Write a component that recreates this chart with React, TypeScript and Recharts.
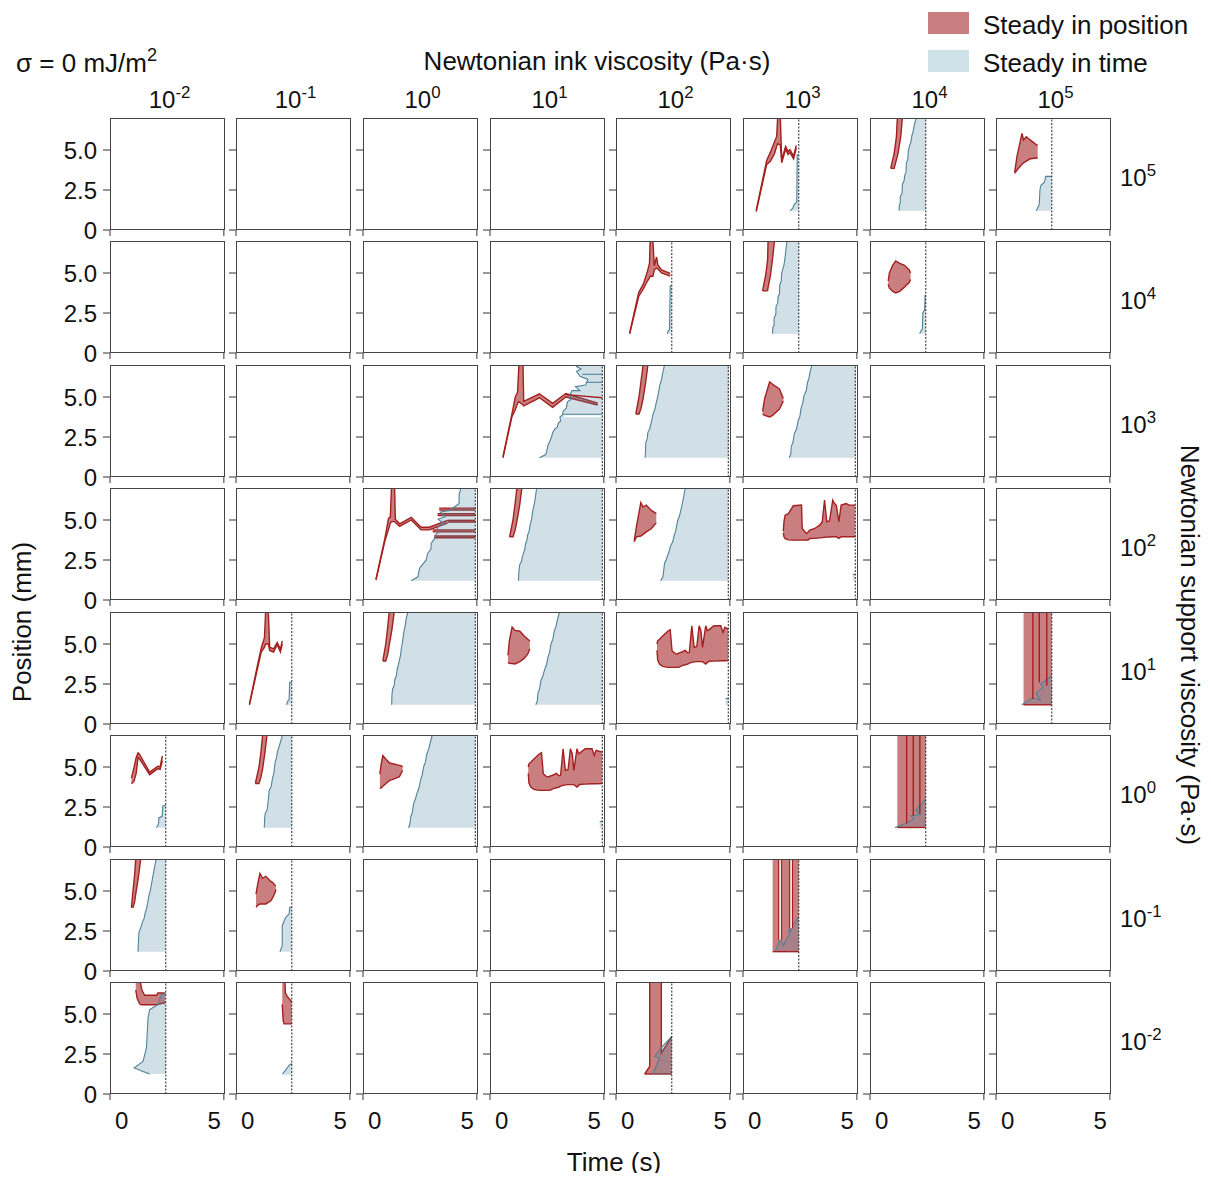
import React from 'react';
import { ComposedChart, Area, Line, XAxis, YAxis, ReferenceLine } from 'recharts';

type Tri = [number, number, number];
type Pair = [number, number];

const inkExponents = ['-2', '-1', '0', '1', '2', '3', '4', '5'];
const supportExponents = ['5', '4', '3', '2', '1', '0', '-1', '-2'];
const xTicks = [0, 5];
const yTicks = [0, 2.5, 5];
const yTickText: Record<number, string> = { 0: '0', 2.5: '2.5', 5: '5.0' };
const SHORT = 2.45;
const LONG = 4.93;

// ---------- row 0 (support 1e5) ----------
const r0c5Red: Tri[] = [[0.58, 1.15, 1.22], [1.04, 4.1, 4.35], [1.2, 4.3, 4.85], [1.38, 4.75, 5.5], [1.48, 5.25, 5.85], [1.52, 5.4, 7], [1.64, 5.3, 7], [1.7, 4.2, 4.38], [1.87, 5.05, 5.22], [1.98, 4.72, 4.9], [2.06, 4.85, 5.02], [2.22, 4.45, 4.62], [2.34, 5.1, 5.28]];
const r0c5Blue: Pair[] = [[2.07, 1.2], [2.18, 1.35], [2.25, 1.6], [2.36, 1.75], [2.38, 4.7], [2.45, 4.7]];
const r0c6Red: Tri[] = [[0.91, 3.85, 3.85], [1.06, 3.85, 4.79], [1.16, 4.4, 5.83], [1.2, 4.6, 7], [1.23, 4.79, 7], [1.35, 5.83, 7], [1.42, 7, 7]];
const r0c6Blue: Pair[] = [[1.28, 1.2], [1.29, 1.6], [1.33, 1.65], [1.33, 2.1], [1.41, 2.3], [1.42, 2.85], [1.5, 3.1], [1.52, 3.4], [1.58, 3.6], [1.6, 4.2], [1.66, 4.4], [1.68, 4.9], [1.74, 5.3], [1.78, 5.4], [1.84, 5.9], [1.9, 6.2], [1.95, 6.6], [2.03, 7], [2.45, 7]];
const r0c7Red: Tri[] = [[0.82, 3.54, 3.6], [0.92, 3.75, 4.58], [1.14, 4.1, 6.04], [1.21, 4.2, 5.63], [1.33, 4.3, 5.83], [1.5, 4.45, 5.63], [1.79, 4.5, 5.31], [1.83, 4.5, 5.3]];
const r0c7Blue: Pair[] = [[1.77, 1.2], [1.85, 1.45], [1.9, 1.6], [1.93, 2.5], [1.97, 2.8], [2.1, 2.95], [2.15, 3.1], [2.18, 3.35], [2.45, 3.35]];

// ---------- row 1 (support 1e4) ----------
const r1c4Red: Tri[] = [[0.6, 1.2, 1.25], [1.0, 3.55, 3.8], [1.2, 4.0, 4.3], [1.38, 4.5, 5.1], [1.47, 4.7, 5.6], [1.5, 4.8, 7], [1.62, 4.8, 7], [1.68, 5.2, 5.45], [1.78, 5.3, 6.0], [1.84, 5.25, 5.5], [2.0, 5.0, 5.2], [2.38, 4.8, 4.98]];
const r1c4Blue: Pair[] = [[2.25, 1.2], [2.3, 1.4], [2.35, 1.45], [2.38, 4.2], [2.45, 4.2]];
const r1c5Red: Tri[] = [[0.86, 3.88, 3.88], [1.0, 3.88, 4.9], [1.08, 3.9, 5.8], [1.1, 4.1, 7], [1.2, 4.8, 7], [1.3, 5.9, 7], [1.38, 7, 7]];
const r1c5Blue: Pair[] = [[1.3, 1.2], [1.31, 1.6], [1.36, 1.7], [1.37, 2.2], [1.44, 2.4], [1.45, 2.9], [1.52, 3.1], [1.54, 3.5], [1.6, 3.7], [1.62, 4.3], [1.68, 4.5], [1.7, 5.0], [1.76, 5.3], [1.8, 5.5], [1.85, 6.0], [1.88, 6.4], [1.93, 7], [2.45, 7]];
const r1c6Red: Tri[] = [[0.8, 4.3, 4.5], [0.85, 4.05, 5.0], [1.0, 3.85, 5.5], [1.13, 3.75, 5.75], [1.3, 3.85, 5.6], [1.5, 4.1, 5.5], [1.72, 4.4, 5.2], [1.78, 4.6, 5.0]];
const r1c6Blue: Pair[] = [[2.18, 1.2], [2.25, 1.4], [2.3, 1.5], [2.32, 2.5], [2.4, 2.7], [2.42, 3.6], [2.45, 3.6]];

// ---------- row 2 (support 1e3) ----------
const r2c3Red: Tri[] = [[0.57, 1.2, 1.27], [0.96, 3.75, 3.92], [1.11, 4.2, 5.0], [1.21, 4.6, 5.3], [1.27, 4.7, 7], [1.45, 4.5, 7], [1.48, 4.45, 4.72], [2.17, 4.95, 5.2], [2.75, 4.35, 4.6], [3.33, 5.0, 5.22], [4.73, 4.5, 4.62]];
const r2c3RedLine: Pair[] = [[3.33, 5.15], [4.93, 4.95]];
const r2c3Blue: Pair[] = [[2.17, 1.2], [2.45, 1.4], [2.5, 1.7], [2.56, 2.05], [2.62, 2.2], [2.7, 2.5], [2.76, 2.8], [2.85, 3.0], [2.95, 3.1], [3.0, 3.35], [3.1, 3.5], [3.07, 3.75], [3.2, 3.9], [3.2, 4.1], [3.35, 4.3], [3.4, 4.7], [3.55, 4.85], [3.5, 5.1], [3.6, 5.4], [3.95, 5.4], [3.75, 5.65], [4.2, 5.75], [4.3, 6.1], [3.95, 6.3], [3.8, 6.6], [4.0, 6.75], [3.8, 6.9], [3.85, 7], [4.93, 7]];
const r2c3BlueH1: Pair[] = [[3.2, 3.92], [4.93, 3.92]];
const r2c3BlueH2: Pair[] = [[4.2, 5.92], [4.93, 5.92]];
const r2c3BlueH3: Pair[] = [[4.05, 6.42], [4.93, 6.42]];
const r2c3White: Pair[] = [[3.25, 3.8], [4.9, 3.8]];
const r2c4Red: Tri[] = [[0.87, 3.94, 3.94], [1.01, 3.94, 5.0], [1.1, 4.3, 6.0], [1.19, 4.9, 7], [1.3, 5.9, 7], [1.4, 7, 7]];
const r2c4Blue: Pair[] = [[1.28, 1.2], [1.3, 1.8], [1.31, 2.17], [1.37, 2.4], [1.4, 2.79], [1.48, 3.0], [1.55, 3.42], [1.58, 3.6], [1.63, 3.94], [1.7, 4.2], [1.77, 4.67], [1.83, 5.0], [1.88, 5.4], [1.92, 5.71], [2.0, 6.1], [2.05, 6.5], [2.13, 7], [4.95, 7]];
const r2c5Red: Tri[] = [[0.86, 3.94, 4.1], [0.95, 3.85, 4.9], [1.17, 3.75, 5.94], [1.3, 3.85, 5.8], [1.6, 4.25, 5.5], [1.77, 4.75, 4.9]];
const r2c5Blue: Pair[] = [[2.03, 1.2], [2.1, 1.45], [2.12, 1.9], [2.2, 2.2], [2.25, 2.7], [2.35, 3.0], [2.42, 3.5], [2.5, 3.8], [2.55, 4.3], [2.62, 4.6], [2.68, 5.1], [2.78, 5.4], [2.83, 5.9], [2.9, 6.2], [2.95, 6.6], [3.03, 7], [4.95, 7]];

// ---------- row 3 (support 1e2) ----------
const r3c2Red: Tri[] = [[0.57, 1.24, 1.3], [0.96, 3.68, 3.85], [1.12, 4.4, 5.1], [1.2, 4.8, 5.2], [1.25, 4.9, 7], [1.39, 4.9, 7], [1.42, 4.85, 5.05], [1.61, 4.6, 4.76], [2.12, 5.0, 5.17], [2.55, 4.38, 4.55], [2.91, 4.38, 4.55], [3.71, 4.8, 4.98]];
const r3c2Stripe1: Tri[] = [[3.35, 5.62, 5.74], [4.93, 5.62, 5.74]];
const r3c2Stripe2: Tri[] = [[3.28, 5.28, 5.4], [4.93, 5.28, 5.4]];
const r3c2Stripe3: Tri[] = [[3.71, 4.87, 4.98], [4.93, 4.87, 4.98]];
const r3c2Stripe4: Tri[] = [[3.06, 4.26, 4.38], [4.93, 4.26, 4.38]];
const r3c2Stripe5: Tri[] = [[3.13, 3.89, 4.0], [4.93, 3.89, 4.0]];
const r3c2Blue: Pair[] = [[2.12, 1.2], [2.41, 1.45], [2.48, 1.97], [2.6, 2.2], [2.77, 2.49], [2.84, 2.91], [2.99, 3.2], [2.99, 3.53], [3.13, 3.8], [3.2, 4.1], [3.3, 4.2], [3.25, 4.45], [3.35, 4.68], [3.55, 4.75], [3.3, 5.05], [3.6, 5.2], [3.4, 5.5], [3.8, 5.6], [4.0, 5.8], [4.22, 6.03], [4.22, 6.6], [4.3, 7], [4.93, 7]];
const r3c3Red: Tri[] = [[0.86, 3.95, 3.95], [1.01, 3.95, 5.0], [1.1, 4.35, 6.0], [1.18, 4.9, 7], [1.3, 5.9, 7], [1.4, 7, 7]];
const r3c3Blue: Pair[] = [[1.25, 1.2], [1.27, 1.8], [1.3, 2.18], [1.38, 2.4], [1.42, 2.7], [1.47, 2.91], [1.53, 3.2], [1.56, 3.5], [1.62, 3.74], [1.66, 4.1], [1.72, 4.3], [1.76, 4.68], [1.82, 5.0], [1.86, 5.4], [1.9, 5.72], [1.96, 6.1], [2.0, 6.5], [2.05, 7], [4.93, 7]];
const r3c4Red: Tri[] = [[0.8, 3.64, 3.7], [0.9, 3.95, 4.6], [1.09, 4.0, 6.09], [1.19, 4.1, 5.81], [1.33, 4.26, 5.93], [1.55, 4.45, 5.6], [1.72, 4.75, 5.45], [1.77, 4.8, 5.4]];
const r3c4Blue: Pair[] = [[1.96, 1.2], [2.06, 1.45], [2.1, 1.9], [2.13, 2.28], [2.2, 2.5], [2.27, 2.8], [2.33, 3.0], [2.38, 3.32], [2.49, 3.64], [2.55, 4.0], [2.61, 4.26], [2.66, 4.6], [2.71, 4.99], [2.78, 5.2], [2.83, 5.51], [2.88, 5.8], [2.93, 6.14], [2.98, 6.5], [3.04, 7], [4.93, 7]];
const r3c5Red: Tri[] = [[1.77, 4.2, 4.3], [1.8, 3.95, 4.9], [1.85, 3.84, 5.3], [1.99, 3.76, 5.4], [2.21, 3.74, 5.89], [2.57, 3.74, 5.93], [2.6, 3.74, 4.47], [2.79, 3.75, 4.16], [2.86, 3.75, 4.25], [2.93, 3.84, 4.37], [3.15, 3.85, 4.47], [3.37, 3.88, 4.68], [3.48, 3.9, 4.89], [3.58, 3.92, 6.24], [3.68, 3.93, 4.89], [3.8, 3.94, 4.95], [3.94, 3.95, 6.24], [4.02, 3.95, 6.03], [4.1, 3.95, 5.9], [4.21, 3.85, 4.89], [4.31, 3.95, 5.93], [4.53, 3.95, 6.03], [4.67, 3.95, 5.93], [4.93, 3.95, 5.93]];
const r3c5Blue: Pair[] = [[4.82, 1.6], [4.93, 1.6]];

// ---------- row 4 (support 1e1) ----------
const r4c1Red: Tri[] = [[0.59, 1.19, 1.25], [0.94, 3.45, 3.65], [1.11, 4.5, 4.75], [1.25, 4.8, 5.4], [1.3, 5.0, 7], [1.42, 5.0, 7], [1.48, 4.6, 4.8], [1.65, 4.5, 4.7], [1.81, 4.95, 5.1], [1.95, 4.5, 4.68], [2.03, 5.0, 5.2]];
const r4c1Blue: Pair[] = [[2.22, 1.2], [2.28, 1.45], [2.33, 1.5], [2.36, 2.6], [2.45, 2.6]];
const r4c2Red: Tri[] = [[0.87, 3.94, 3.94], [1.0, 3.94, 5.0], [1.08, 4.3, 6.0], [1.15, 4.9, 7], [1.27, 5.9, 7], [1.37, 7, 7]];
const r4c2Blue: Pair[] = [[1.26, 1.2], [1.27, 1.8], [1.3, 2.2], [1.37, 2.4], [1.4, 2.8], [1.46, 3.0], [1.5, 3.4], [1.55, 3.7], [1.6, 4.0], [1.65, 4.3], [1.68, 4.7], [1.72, 5.0], [1.76, 5.4], [1.8, 5.8], [1.86, 6.2], [1.9, 6.6], [1.97, 7], [4.93, 7]];
const r4c3Red: Tri[] = [[0.79, 3.85, 4.3], [0.85, 3.8, 5.2], [0.97, 3.78, 6.06], [1.1, 3.75, 5.85], [1.31, 3.9, 5.8], [1.5, 4.1, 5.5], [1.66, 4.38, 5.3], [1.75, 4.7, 5.19]];
const r4c3Blue: Pair[] = [[2.01, 1.2], [2.08, 1.45], [2.1, 1.9], [2.18, 2.2], [2.23, 2.7], [2.32, 3.0], [2.4, 3.4], [2.48, 3.7], [2.55, 4.2], [2.62, 4.5], [2.68, 5.0], [2.76, 5.3], [2.82, 5.8], [2.9, 6.1], [2.96, 6.5], [3.05, 7], [4.93, 7]];
const r4c4Red: Tri[] = [[1.8, 4.6, 5.0], [1.83, 4.0, 5.2], [1.91, 3.75, 5.3], [2.05, 3.6, 5.5], [2.27, 3.54, 5.8], [2.38, 3.54, 5.9], [2.46, 3.54, 4.58], [2.6, 3.54, 4.4], [2.67, 3.54, 4.38], [2.78, 3.56, 4.45], [2.9, 3.65, 4.5], [3.04, 3.7, 4.6], [3.15, 3.75, 4.45], [3.22, 3.8, 4.48], [3.33, 3.85, 6.14], [3.43, 3.88, 4.79], [3.55, 3.9, 4.85], [3.65, 3.9, 6.14], [3.73, 3.9, 5.83], [3.8, 3.9, 4.79], [3.94, 3.75, 6.14], [4.01, 3.85, 5.83], [4.09, 3.92, 5.9], [4.3, 3.93, 6.14], [4.6, 3.95, 6.14], [4.7, 3.95, 5.72], [4.78, 3.95, 6.04], [4.93, 3.96, 5.93]];
const r4c4Blue: Pair[] = [[4.81, 1.6], [4.93, 1.6]];
const r4c7RedCol: Tri[] = [[1.21, 1.2, 7], [2.45, 1.2, 7]];
const r4c7RedBase: Pair[] = [[1.21, 1.2], [2.45, 1.2]];
const r4c7RedV1: Pair[] = [[1.62, 7], [1.62, 1.56]];
const r4c7RedV2: Pair[] = [[1.9, 7], [1.9, 2.6]];
const r4c7RedV3: Pair[] = [[2.23, 7], [2.23, 2.4]];
const r4c7Blue: Pair[] = [[1.14, 1.2], [1.6, 1.65], [1.93, 1.5], [1.75, 1.95], [2.08, 2.3], [1.95, 2.5], [2.45, 3.02]];

// ---------- row 5 (support 1e0) ----------
const r5c0Red: Tri[] = [[0.94, 3.95, 4.3], [1.05, 4.1, 4.95], [1.15, 4.6, 5.6], [1.23, 5.6, 5.89], [1.3, 5.5, 5.78], [1.74, 4.52, 4.68], [2.1, 4.9, 5.05], [2.2, 4.85, 5.0], [2.3, 5.4, 5.7]];
const r5c0Blue: Pair[] = [[2.03, 1.2], [2.08, 1.3], [2.14, 1.5], [2.14, 1.82], [2.29, 1.92], [2.32, 2.57], [2.45, 2.6]];
const r5c1Red: Tri[] = [[0.85, 3.97, 3.97], [1.01, 3.97, 5.0], [1.1, 4.4, 6.0], [1.17, 4.9, 7], [1.27, 5.9, 7], [1.36, 7, 7]];
const r5c1Blue: Pair[] = [[1.24, 1.2], [1.26, 1.8], [1.28, 2.09], [1.36, 2.3], [1.38, 2.47], [1.42, 3.0], [1.46, 3.55], [1.55, 3.8], [1.6, 4.28], [1.66, 4.6], [1.72, 5.32], [1.78, 5.6], [1.82, 5.94], [1.92, 6.4], [2.04, 7], [2.45, 7]];
const r5c2Red: Tri[] = [[0.74, 3.66, 4.55], [0.8, 3.7, 5.2], [0.87, 3.8, 5.72], [1.0, 3.95, 5.5], [1.17, 4.16, 5.25], [1.26, 4.2, 5.22], [1.6, 4.4, 5.1], [1.74, 4.8, 5.03]];
const r5c2Blue: Pair[] = [[2.0, 1.2], [2.06, 1.45], [2.1, 1.9], [2.17, 2.2], [2.22, 2.7], [2.3, 3.0], [2.38, 3.4], [2.46, 3.7], [2.53, 4.2], [2.6, 4.5], [2.66, 5.0], [2.74, 5.3], [2.8, 5.8], [2.88, 6.1], [2.95, 6.5], [3.04, 7], [4.93, 7]];
const r5c3Red: Tri[] = [[1.68, 4.6, 5.0], [1.71, 4.0, 5.2], [1.79, 3.75, 5.3], [1.93, 3.6, 5.5], [2.15, 3.54, 5.8], [2.26, 3.54, 5.9], [2.34, 3.54, 4.58], [2.48, 3.54, 4.4], [2.55, 3.54, 4.38], [2.66, 3.56, 4.45], [2.78, 3.65, 4.5], [2.92, 3.7, 4.6], [3.03, 3.75, 4.45], [3.1, 3.8, 4.48], [3.21, 3.85, 6.14], [3.31, 3.88, 4.79], [3.43, 3.9, 4.85], [3.53, 3.9, 6.14], [3.61, 3.9, 5.83], [3.68, 3.9, 4.79], [3.82, 3.75, 6.14], [3.89, 3.85, 5.83], [3.97, 3.92, 5.9], [4.18, 3.93, 6.14], [4.48, 3.95, 6.14], [4.58, 3.95, 5.72], [4.66, 3.95, 6.04], [4.93, 3.96, 5.93]];
const r5c3Blue: Pair[] = [[4.82, 1.6], [4.93, 1.6]];
const r5c6RedCol: Tri[] = [[1.2, 1.22, 7], [2.45, 1.22, 7]];
const r5c6RedBase: Pair[] = [[1.2, 1.22], [2.45, 1.22]];
const r5c6RedV1: Pair[] = [[1.61, 7], [1.61, 1.47]];
const r5c6RedV2: Pair[] = [[1.9, 7], [1.9, 1.95]];
const r5c6RedV3: Pair[] = [[2.19, 7], [2.19, 2.09]];
const r5c6Blue: Pair[] = [[1.1, 1.22], [1.64, 1.51], [1.93, 1.77], [1.78, 1.95], [2.22, 2.03], [2.0, 2.3], [2.45, 2.99]];

// ---------- row 6 (support 1e-1) ----------
const r6c0Red: Tri[] = [[0.94, 3.98, 3.98], [1.01, 3.98, 5.0], [1.08, 4.3, 6.0], [1.13, 4.8, 7], [1.25, 5.9, 7], [1.35, 7, 7]];
const r6c0Blue: Pair[] = [[1.23, 1.2], [1.25, 1.9], [1.27, 2.42], [1.35, 2.7], [1.42, 3.04], [1.5, 3.3], [1.54, 3.6], [1.6, 3.88], [1.66, 4.3], [1.71, 4.71], [1.78, 5.1], [1.82, 5.4], [1.86, 5.75], [1.92, 6.2], [1.97, 6.6], [2.03, 7], [2.45, 7]];
const r6c1Red: Tri[] = [[0.88, 3.98, 4.81], [0.95, 4.1, 5.4], [1.05, 4.19, 6.1], [1.17, 4.19, 5.79], [1.31, 4.19, 5.92], [1.53, 4.39, 5.6], [1.6, 4.55, 5.54], [1.72, 4.92, 5.35], [1.75, 5.1, 5.33]];
const r6c1Blue: Pair[] = [[1.93, 1.2], [2.03, 1.58], [2.03, 2.83], [2.18, 3.35], [2.33, 3.56], [2.36, 3.98], [2.45, 3.98]];
const r6c5RedCol: Tri[] = [[1.3, 1.21, 7], [2.45, 1.21, 7]];
const r6c5RedBase: Pair[] = [[1.3, 1.21], [2.45, 1.21]];
const r6c5Slit1: Pair[] = [[1.63, 7], [1.63, 1.96]];
const r6c5Slit2: Pair[] = [[2.11, 7], [2.11, 2.67]];
const r6c5Blue: Pair[] = [[1.41, 1.21], [1.63, 1.96], [1.77, 1.58], [2.14, 2.63], [1.98, 2.45], [2.43, 3.35]];

// ---------- row 7 (support 1e-2) ----------
const r7c0Red: Tri[] = [[1.13, 6.5, 7], [1.19, 6.0, 7], [1.28, 5.7, 7], [1.33, 5.6, 7], [1.4, 5.58, 6.5], [1.52, 5.58, 6.17], [2.05, 5.58, 6.17], [2.1, 5.6, 6.31], [2.42, 5.7, 6.31]];
const r7c0BlueBand: Tri[] = [[1.06, 1.63, 1.63], [1.45, 1.35, 2.04], [1.6, 1.28, 2.88], [1.67, 1.26, 4.75], [1.74, 1.25, 5.27], [2.1, 1.25, 5.58], [2.25, 1.25, 6.2], [2.45, 1.25, 6.31]];
const r7c0BlueEdge: Pair[] = [[1.74, 1.25], [1.06, 1.63], [1.45, 2.04], [1.6, 2.88], [1.67, 4.75], [1.74, 5.27], [2.1, 5.58], [2.25, 6.2], [2.45, 6.31]];
const r7c1Red: Tri[] = [[2.03, 5.6, 7], [2.07, 4.6, 7], [2.11, 4.38, 7], [2.15, 4.38, 7], [2.17, 4.38, 6.3], [2.25, 4.38, 6.1], [2.45, 4.38, 5.75]];
const r7c1Blue: Pair[] = [[2.04, 1.25], [2.15, 1.45], [2.25, 1.63], [2.36, 1.83], [2.45, 1.9]];
const r7c4Red: Tri[] = [[1.26, 1.25, 1.25], [1.48, 1.25, 1.73], [1.48, 1.25, 7], [1.99, 1.25, 7], [1.99, 1.25, 2.56], [2.45, 1.25, 3.6]];
const r7c4Blue: Pair[] = [[1.62, 1.25], [1.91, 2.25], [1.7, 2.35], [1.91, 2.77], [2.45, 3.6]];

// ---------- layout / style ----------
const colLeft = [110, 236, 363, 490, 616, 743, 870, 996];
const rowTop = [118, 241, 365, 488, 612, 735, 859, 982];
const PW = 115;
const PH = 112;
const PL = 70;
const PT = 4;
const PR = 4;
const PB = 50;
const FONT = '"Liberation Sans", Arial, Helvetica, sans-serif';
const RED_FILL = '#c97f80';
const RED_STROKE = '#a3201f';
const BLUE_FILL = '#4682a0';
const BLUE_OP = 0.25;
const BLUE_STROKE = '#4f8298';
const SWATCH_BLUE = '#cfe2e9';

interface Panel {
  r: number;
  c: number;
  t: number;
  red?: Tri[][];
  redCol?: Tri[][];
  redLines?: Pair[][];
  slits?: Pair[][];
  blue?: Pair[][];
  blueBand?: Tri[][];
  blueLines?: Pair[][];
  whiteLines?: Pair[][];
}

const panels: Panel[] = [
  { r: 0, c: 5, t: SHORT, red: [r0c5Red], blue: [r0c5Blue] },
  { r: 0, c: 6, t: SHORT, red: [r0c6Red], blue: [r0c6Blue] },
  { r: 0, c: 7, t: SHORT, red: [r0c7Red], blue: [r0c7Blue] },
  { r: 1, c: 4, t: SHORT, red: [r1c4Red], blue: [r1c4Blue] },
  { r: 1, c: 5, t: SHORT, red: [r1c5Red], blue: [r1c5Blue] },
  { r: 1, c: 6, t: SHORT, red: [r1c6Red], blue: [r1c6Blue] },
  { r: 2, c: 3, t: LONG, red: [r2c3Red], redLines: [r2c3RedLine], blue: [r2c3Blue], whiteLines: [r2c3White], blueLines: [r2c3BlueH1, r2c3BlueH2, r2c3BlueH3] },
  { r: 2, c: 4, t: LONG, red: [r2c4Red], blue: [r2c4Blue] },
  { r: 2, c: 5, t: LONG, red: [r2c5Red], blue: [r2c5Blue] },
  { r: 3, c: 2, t: LONG, red: [r3c2Red, r3c2Stripe1, r3c2Stripe2, r3c2Stripe3, r3c2Stripe4, r3c2Stripe5], blue: [r3c2Blue] },
  { r: 3, c: 3, t: LONG, red: [r3c3Red], blue: [r3c3Blue] },
  { r: 3, c: 4, t: LONG, red: [r3c4Red], blue: [r3c4Blue] },
  { r: 3, c: 5, t: LONG, red: [r3c5Red], blue: [r3c5Blue] },
  { r: 4, c: 1, t: SHORT, red: [r4c1Red], blue: [r4c1Blue] },
  { r: 4, c: 2, t: LONG, red: [r4c2Red], blue: [r4c2Blue] },
  { r: 4, c: 3, t: LONG, red: [r4c3Red], blue: [r4c3Blue] },
  { r: 4, c: 4, t: LONG, red: [r4c4Red], blue: [r4c4Blue] },
  { r: 4, c: 7, t: SHORT, redCol: [r4c7RedCol], redLines: [r4c7RedBase, r4c7RedV1, r4c7RedV2, r4c7RedV3], blue: [r4c7Blue] },
  { r: 5, c: 0, t: SHORT, red: [r5c0Red], blue: [r5c0Blue] },
  { r: 5, c: 1, t: SHORT, red: [r5c1Red], blue: [r5c1Blue] },
  { r: 5, c: 2, t: LONG, red: [r5c2Red], blue: [r5c2Blue] },
  { r: 5, c: 3, t: LONG, red: [r5c3Red], blue: [r5c3Blue] },
  { r: 5, c: 6, t: SHORT, redCol: [r5c6RedCol], redLines: [r5c6RedBase, r5c6RedV1, r5c6RedV2, r5c6RedV3], blue: [r5c6Blue] },
  { r: 6, c: 0, t: SHORT, red: [r6c0Red], blue: [r6c0Blue] },
  { r: 6, c: 1, t: SHORT, red: [r6c1Red], blue: [r6c1Blue] },
  { r: 6, c: 5, t: SHORT, redCol: [r6c5RedCol], redLines: [r6c5RedBase], slits: [r6c5Slit1, r6c5Slit2], blue: [r6c5Blue] },
  { r: 7, c: 0, t: SHORT, red: [r7c0Red], blueBand: [r7c0BlueBand], blueLines: [r7c0BlueEdge] },
  { r: 7, c: 1, t: SHORT, red: [r7c1Red], blue: [r7c1Blue] },
  { r: 7, c: 4, t: SHORT, red: [r7c4Red], blue: [r7c4Blue] },
];

const band = (a: Tri[]) => a.map(([x, lo, hi]) => ({ x, v: [lo, hi] }));
const pts = (a: Pair[]) => a.map(([x, y]) => ({ x, y }));

function Sup({ base, exp }: { base: string; exp: string }) {
  return (
    <span>
      {base}
      <span style={{ fontSize: '0.7em', position: 'relative', top: '-0.62em' }}>{exp}</span>
    </span>
  );
}

function PanelChart({ r, c, spec }: { r: number; c: number; spec?: Panel }) {
  const showX = r === 7;
  const showY = c === 0;
  const xTick = (props: any) => {
    if (!showX) return <g />;
    const { x, y, payload } = props;
    const first = payload.value === 0;
    return (
      <text x={first ? x + 5 : x - 3} y={y} dy="0.71em" textAnchor={first ? 'start' : 'end'} fontSize={24} fontFamily={FONT} fill="#111">
        {String(payload.value)}
      </text>
    );
  };
  const yTick = (props: any) => {
    if (!showY) return <g />;
    const { x, y, payload } = props;
    return (
      <text x={x} y={y} dy="0.355em" textAnchor="end" fontSize={24} fontFamily={FONT} fill="#111">
        {yTickText[payload.value]}
      </text>
    );
  };
  const items: React.ReactNode[] = [];
  let k = 0;
  if (spec) {
    (spec.redCol || []).forEach((d) =>
      items.push(<Area key={k++} data={band(d)} dataKey="v" type="linear" fill={RED_FILL} fillOpacity={1} stroke="none" isAnimationActive={false} dot={false} activeDot={false} />)
    );
    (spec.red || []).forEach((d) =>
      items.push(<Area key={k++} data={band(d)} dataKey="v" type="linear" fill={RED_FILL} fillOpacity={1} stroke={RED_STROKE} strokeWidth={1.4} isAnimationActive={false} dot={false} activeDot={false} />)
    );
    (spec.redLines || []).forEach((d) =>
      items.push(<Line key={k++} data={pts(d)} dataKey="y" type="linear" stroke={RED_STROKE} strokeWidth={1.4} dot={false} activeDot={false} isAnimationActive={false} />)
    );
    (spec.slits || []).forEach((d) => {
      items.push(<Line key={k++} data={pts(d)} dataKey="y" type="linear" stroke={RED_STROKE} strokeWidth={4} dot={false} activeDot={false} isAnimationActive={false} />);
      items.push(<Line key={k++} data={pts(d)} dataKey="y" type="linear" stroke="#ffffff" strokeWidth={1.6} dot={false} activeDot={false} isAnimationActive={false} />);
    });
    (spec.blue || []).forEach((d) =>
      items.push(<Area key={k++} data={pts(d)} dataKey="y" baseValue={1.2} type="linear" fill={BLUE_FILL} fillOpacity={BLUE_OP} stroke={BLUE_STROKE} strokeWidth={1.1} isAnimationActive={false} dot={false} activeDot={false} />)
    );
    (spec.blueBand || []).forEach((d) =>
      items.push(<Area key={k++} data={band(d)} dataKey="v" type="linear" fill={BLUE_FILL} fillOpacity={BLUE_OP} stroke="none" isAnimationActive={false} dot={false} activeDot={false} />)
    );
    (spec.whiteLines || []).forEach((d) =>
      items.push(<Line key={k++} data={pts(d)} dataKey="y" type="linear" stroke="#ffffff" strokeWidth={2} dot={false} activeDot={false} isAnimationActive={false} />)
    );
    (spec.blueLines || []).forEach((d) =>
      items.push(<Line key={k++} data={pts(d)} dataKey="y" type="linear" stroke={BLUE_STROKE} strokeWidth={1.1} dot={false} activeDot={false} isAnimationActive={false} />)
    );
    items.push(<ReferenceLine key={k++} x={spec.t} stroke="#222" strokeWidth={1} strokeDasharray="2 1.5" ifOverflow="extendDomain" />);
  }
  return (
    <>
      <div style={{ position: 'absolute', left: colLeft[c] - 8 - PL, top: rowTop[r] - 8 - PT }}>
        <ComposedChart width={PL + PW + PR} height={PT + PH + PB} margin={{ top: PT, right: PR, left: 0, bottom: 0 }}>
          <XAxis type="number" dataKey="x" domain={[0, 5.05]} ticks={xTicks} allowDataOverflow axisLine={false} tickLine={{ stroke: '#333' }} tickSize={6} tickMargin={12} tick={xTick} height={PB} interval={0} />
          <YAxis type="number" domain={[0, 7]} ticks={yTicks} allowDataOverflow axisLine={false} tickLine={{ stroke: '#333' }} tickSize={7} tickMargin={6} tick={yTick} width={PL} interval={0} />
          {items}
        </ComposedChart>
      </div>
      <div style={{ position: 'absolute', left: colLeft[c] - 8, top: rowTop[r] - 8, width: PW, height: PH, border: '1px solid #444', boxSizing: 'border-box', pointerEvents: 'none' }} />
    </>
  );
}

const text = (extra: React.CSSProperties): React.CSSProperties => ({
  position: 'absolute',
  fontFamily: FONT,
  color: '#111',
  lineHeight: 1,
  whiteSpace: 'nowrap',
  ...extra,
});

export default function App() {
  const cells: React.ReactNode[] = [];
  for (let r = 0; r < 8; r++) {
    for (let c = 0; c < 8; c++) {
      const spec = panels.find((p) => p.r === r && p.c === c);
      cells.push(<PanelChart key={`${r}-${c}`} r={r} c={c} spec={spec} />);
    }
  }
  return (
    <div style={{ position: 'relative', width: 1195, height: 1165, background: '#fff', fontFamily: FONT }}>
      {cells}
      {/* legend */}
      <div style={{ position: 'absolute', left: 928 - 8, top: 12 - 8, width: 41, height: 22, background: RED_FILL }} />
      <div style={{ position: 'absolute', left: 928 - 8, top: 50 - 8, width: 41, height: 22, background: SWATCH_BLUE }} />
      <div style={text({ left: 983 - 8, top: 25 - 8, fontSize: 26, transform: 'translateY(-50%)' })}>Steady in position</div>
      <div style={text({ left: 983 - 8, top: 63 - 8, fontSize: 26, transform: 'translateY(-50%)' })}>Steady in time</div>
      {/* titles */}
      <div style={text({ left: 16 - 8, top: 63 - 8, fontSize: 26, transform: 'translateY(-50%)' })}>
        σ = 0 <Sup base="mJ/m" exp="2" />
      </div>
      <div style={text({ left: 597 - 8, top: 61 - 8, fontSize: 26, transform: 'translate(-50%,-50%)' })}>Newtonian ink viscosity (Pa·s)</div>
      {inkExponents.map((e, c) => (
        <div key={`h${c}`} style={text({ left: colLeft[c] + PW / 2 + 2 - 8, top: 100 - 8, fontSize: 24, transform: 'translate(-50%,-50%)' })}>
          <Sup base="10" exp={e} />
        </div>
      ))}
      {supportExponents.map((e, r) => (
        <div key={`s${r}`} style={text({ left: 1120 - 8, top: rowTop[r] + PH / 2 + 4 - 8, fontSize: 24, transform: 'translateY(-50%)' })}>
          <Sup base="10" exp={e} />
        </div>
      ))}
      <div style={text({ left: 1190 - 8, top: 645 - 8, fontSize: 26, transform: 'translate(-50%,-50%) rotate(90deg)' })}>Newtonian support viscosity (Pa·s)</div>
      <div style={text({ left: 22 - 8, top: 622 - 8, fontSize: 26, transform: 'translate(-50%,-50%) rotate(-90deg)' })}>Position (mm)</div>
      <div style={text({ left: 614 - 8, top: 1162 - 8, fontSize: 26, transform: 'translate(-50%,-50%)' })}>Time (s)</div>
    </div>
  );
}
